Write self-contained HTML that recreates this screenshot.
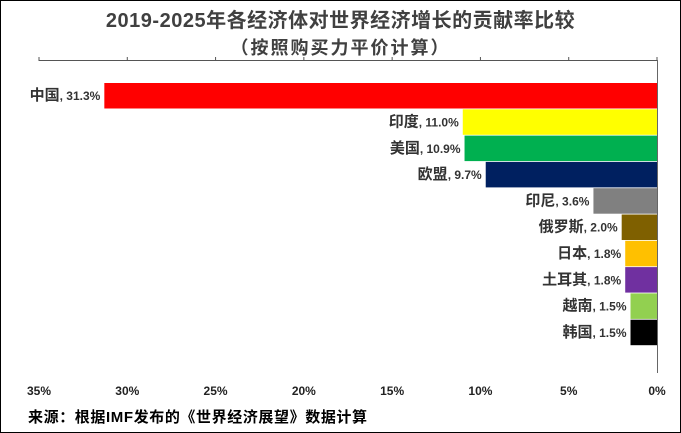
<!DOCTYPE html>
<html><head><meta charset="utf-8"><style>
html,body{margin:0;padding:0;background:#fff}
#wrap{position:relative;width:679px;height:431px;border:1px solid #000;overflow:hidden;font-family:"Liberation Sans","Noto Sans CJK SC",sans-serif}
.t{position:absolute;left:0;width:679px;text-align:center;font-weight:bold;color:#404040}
</style></head><body>
<div id="wrap">
<div class="t" style="top:3px;font-size:20px;letter-spacing:0.5px">2019-2025年各经济体对世界经济增长的贡献率比较</div>
<div class="t" style="top:33px;font-size:18px;letter-spacing:2px">（按照购买力平价计算）</div>
<svg id="plot" width="679" height="431" style="position:absolute;left:0;top:0"></svg>
<div style="position:absolute;left:27px;top:405px;font-size:15px;letter-spacing:0.6px;font-weight:bold;color:#000">来源：根据IMF发布的《世界经济展望》数据计算</div>
</div>
<script>
const categories=["中国","印度","美国","欧盟","印尼","俄罗斯","日本","土耳其","越南","韩国"];
const values=[31.3,11.0,10.9,9.7,3.6,2.0,1.8,1.8,1.5,1.5];
const colors=["#ff0000","#ffff00","#00b050","#002060","#808080","#7f6000","#ffc000","#7030a0","#92d050","#000000"];
const ticks=[35,30,25,20,15,10,5,0];
const NS="http://www.w3.org/2000/svg";
const svg=document.getElementById('plot');
const x0=656,pxPer=(656-38)/35;
const X=v=>x0-v*pxPer;
const yTop=81,band=26.3;
const Y=i=>yTop+i*band;
function mk(t,a){const e=document.createElementNS(NS,t);for(const k in a)e.setAttribute(k,a[k]);svg.appendChild(e);return e;}
let ax=mk('line',{x1:X(35),x2:x0,y1:59.5,y2:59.5,stroke:'#555','stroke-width':1});


ticks.forEach(t=>{
 const tl=mk('line',{x1:X(t),x2:X(t),y1:56,y2:60,stroke:'#555'});
 
 
 const tx=mk('text',{x:X(t),y:394,'text-anchor':'middle','font-size':12,'font-weight':'bold',fill:'#222','font-family':'Liberation Sans, sans-serif'});
 tx.textContent=t+'%';
 
 
});
categories.forEach((c,i)=>{
 const r=mk('rect',{x:X(values[i]),y:Y(i)+1,width:values[i]*pxPer,height:band-0.8,fill:colors[i]});
 
 
 const tx=mk('text',{x:X(values[i])-4,y:Y(i)+band/2+5,'text-anchor':'end','font-size':15,'font-weight':'bold',fill:'#333','font-family':'Liberation Sans, Noto Sans CJK SC, sans-serif'});
 tx.innerHTML=c+'<tspan font-size="12">, '+values[i].toFixed(1)+'%</tspan>';
 
 
});
let vl=mk('line',{x1:x0+0.5,x2:x0+0.5,y1:59,y2:372,stroke:'#666','stroke-width':1});


</script>
</body></html>
